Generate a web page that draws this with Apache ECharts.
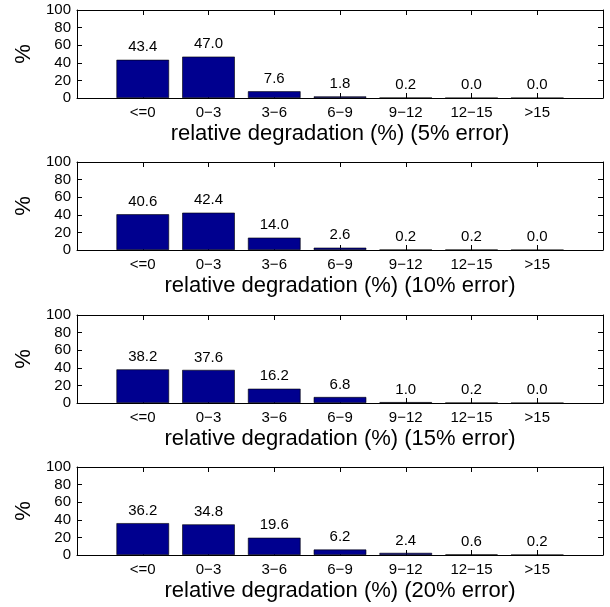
<!DOCTYPE html>
<html>
<head>
<meta charset="utf-8">
<script src="https://cdn.jsdelivr.net/npm/echarts@6/dist/echarts.min.js"></script>
<style>
html,body{margin:0;padding:0;background:#fff;}
#c{width:610px;height:607px;}
</style>
</head>
<body>
<div id="c"></div>
<script>
var categories = ['<=0', '0\u22123', '3\u22126', '6\u22129', '9\u221212', '12\u221215', '>15'];
var err5 = [43.4, 47.0, 7.6, 1.8, 0.2, 0.0, 0.0];
var err10 = [40.6, 42.4, 14.0, 2.6, 0.2, 0.2, 0.0];
var err15 = [38.2, 37.6, 16.2, 6.8, 1.0, 0.2, 0.0];
var err20 = [36.2, 34.8, 19.6, 6.2, 2.4, 0.6, 0.2];
var panelNames = ['relative degradation (%) (5% error)', 'relative degradation (%) (10% error)',
                  'relative degradation (%) (15% error)', 'relative degradation (%) (20% error)'];
var yTicks = [0, 20, 40, 60, 80, 100];

var panels = [err5, err10, err15, err20];
var tops = [10, 162, 315, 467];
var FONT = '"Liberation Sans", Arial, Helvetica, sans-serif';

var grids = [], xAxes = [], yAxes = [], series = [];
panels.forEach(function (vals, p) {
  grids.push({left: 77, width: 526, top: tops[p], height: 88, containLabel: false});
  xAxes.push({
    type: 'value', gridIndex: p, min: 0, max: categories.length + 1, interval: 1,
    position: 'bottom',
    name: panelNames[p], nameLocation: 'middle', nameGap: 25,
    nameTextStyle: {fontFamily: FONT, fontSize: 22, color: '#000'},
    axisLine: {show: true, onZero: false, lineStyle: {color: '#000', width: 1}},
    axisTick: {show: true, inside: true, length: 5, lineStyle: {color: '#000'}},
    axisLabel: {
      fontFamily: FONT, fontSize: 15, color: '#000', margin: 7,
      formatter: function (v) { var i = Math.round(v) - 1; return (i >= 0 && i < categories.length) ? categories[i] : ''; }
    },
    splitLine: {show: false}
  });
  xAxes.push({
    type: 'value', gridIndex: p, min: 0, max: categories.length + 1, interval: 1,
    position: 'top',
    axisLine: {show: true, onZero: false, lineStyle: {color: '#000', width: 1}},
    axisTick: {show: true, inside: true, length: 5, lineStyle: {color: '#000'}},
    axisLabel: {show: false},
    splitLine: {show: false}
  });
  yAxes.push({
    type: 'value', gridIndex: p, min: 0, max: 100, interval: 20, position: 'left',
    name: '%', nameLocation: 'middle', nameGap: 42, nameRotate: 90,
    nameTextStyle: {fontFamily: FONT, fontSize: 22, color: '#000'},
    axisLine: {show: true, onZero: false, lineStyle: {color: '#000', width: 1}},
    axisTick: {show: true, inside: true, length: 5, lineStyle: {color: '#000'}},
    axisLabel: {fontFamily: FONT, fontSize: 15, color: '#000', margin: 6,
      customValues: yTicks},
    splitLine: {show: false}
  });
  yAxes.push({
    type: 'value', gridIndex: p, min: 0, max: 100, interval: 20, position: 'right',
    axisLine: {show: true, onZero: false, lineStyle: {color: '#000', width: 1}},
    axisTick: {show: true, inside: true, length: 5, lineStyle: {color: '#000'}},
    axisLabel: {show: false},
    splitLine: {show: false}
  });
  series.push({
    type: 'bar', xAxisIndex: 2 * p, yAxisIndex: 2 * p,
    barWidth: 52.6,
    data: vals.map(function (v, i) { return [i + 1, v]; }),
    itemStyle: {color: '#00008F', borderColor: '#000', borderWidth: 0.6},
    label: {
      show: true, position: 'top', distance: 5,
      fontFamily: FONT, fontSize: 15, color: '#000',
      formatter: function (d) { return d.value[1].toFixed(1); }
    },
    silent: true, animation: false
  });
});

var chart = echarts.init(document.getElementById('c'), null, {renderer: 'canvas'});
chart.setOption({
  backgroundColor: '#fff',
  animation: false,
  grid: grids, xAxis: xAxes, yAxis: yAxes, series: series
});
</script>
</body>
</html>
